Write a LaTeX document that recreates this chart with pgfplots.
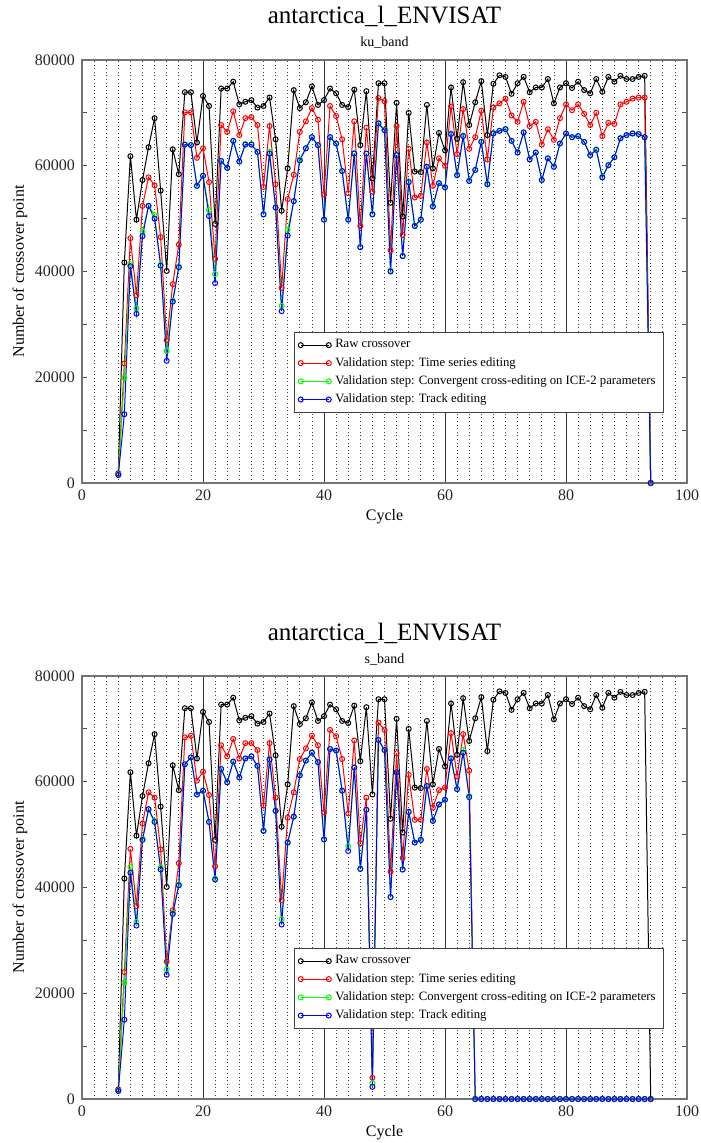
\documentclass[border=0pt]{standalone}
\usepackage{fontspec}
\setmainfont{Liberation Serif}
\usepackage{pgfplots}
\usepackage{pgfplotstable}
\pgfplotsset{compat=1.18}

% Ku band: raw crossover count and counts after each validation step
\pgfplotstableread{
c raw ts cc tr
6 1800 1700 1600 1500
7 41700 22600 19900 13000
8 61800 46300 41400 41000
9 49800 35500 33000 32000
10 57300 52400 47500 46700
11 63500 57800 52400 52400
12 69000 56300 50700 50000
13 55300 46500 41300 41100
14 40100 27000 25000 23100
15 63100 37600 34500 34300
16 58400 45100 40900 40800
17 73900 70100 64000 64000
18 73900 70100 63900 63900
19 64400 61500 56200 56200
20 73200 63300 58100 58100
21 71300 56900 51600 50500
22 49000 42400 39500 37800
23 74600 67700 60900 60900
24 74600 66400 59600 59600
25 75900 70300 64700 64700
26 71600 65800 60800 60800
27 72100 69000 64100 64000
28 72400 69200 64100 64000
29 71000 67700 62700 62600
30 71300 56000 50800 50800
31 72900 67500 62600 62300
32 65000 56500 52100 52100
33 51500 36900 33500 32500
34 59500 53700 47900 46800
35 74300 58300 53300 53300
36 70900 66400 61200 61000
37 72000 68400 63300 63300
38 75000 70900 65400 65400
39 71500 68700 63900 63900
40 72400 54600 49800 49800
41 74600 71300 65400 65400
42 73700 69400 64200 64200
43 71500 65000 59000 59000
44 71100 54800 49800 49800
45 74400 68400 62400 62300
46 63900 48600 44600 44600
47 74100 67200 62300 62300
48 57600 55100 50900 50800
49 75600 72800 68100 68000
50 75600 72200 66800 66700
51 53000 44000 40200 40000
52 71900 67500 62000 62000
53 50400 46900 43000 42900
54 70000 63200 57000 56900
55 58900 54000 48700 48600
56 58800 54300 49800 49800
57 71500 64400 59800 59800
58 59500 56200 52300 52300
59 66200 61400 56700 56700
60 62900 60000 56000 55900
61 74800 71200 66000 66000
62 65100 62200 58300 58200
63 75800 70700 65700 65600
64 67700 63200 57200 57100
65 72000 65400 59200 59200
66 76000 70400 64600 64500
67 65800 61200 56600 56500
68 75500 71000 66200 66100
69 77100 71800 66600 66600
70 76800 72700 67000 66900
71 73600 69500 64700 64700
72 75600 68300 62500 62500
73 76800 72100 66300 66300
74 73900 67500 61200 61200
75 74800 68300 62500 62500
76 74800 64000 57300 57300
77 76400 66900 61400 61400
78 71800 64900 59800 59800
79 74800 69000 64200 64200
80 75600 71600 66100 66100
81 74700 70500 65400 65400
82 75900 71600 65600 65600
83 74300 69800 64500 64500
84 73700 67700 62000 62000
85 76400 70000 63100 63000
86 74000 65600 57900 57800
87 76800 68100 60100 60100
88 75900 67900 61600 61600
89 77000 71600 65200 65200
90 76400 72100 65800 65800
91 76400 72700 66100 66100
92 76800 72900 66000 66000
93 77000 72900 65400 65400
94 0 0 0 0
}\kutable

% S band: same raw crossovers, validated counts stop after cycle 64
\pgfplotstableread{
c raw ts cc tr
6 1800 1700 1600 1500
7 41700 24000 22000 15000
8 61800 47300 43900 42800
9 49800 36500 33500 32800
10 57300 52100 49200 49000
11 63500 58000 54800 54800
12 69000 57000 52600 52400
13 55300 47200 43800 43400
14 40100 26000 24500 23500
15 63100 35700 35200 35000
16 58400 44600 40600 40400
17 73900 68400 63300 63300
18 73900 68700 64600 64600
19 64400 60200 57600 57600
20 73200 61900 58300 58300
21 71300 57500 52400 52400
22 49000 44000 41700 41500
23 74600 66900 62400 62400
24 74600 64800 59900 59900
25 75900 68100 63800 63800
26 71600 64400 60800 60800
27 72100 67300 64400 64400
28 72400 67300 64800 64800
29 71000 66000 63000 63000
30 71300 55500 50700 50700
31 72900 67300 64200 64200
32 65000 57000 54500 54500
33 51500 37600 34000 33000
34 59500 53200 48500 48500
35 74300 58000 53400 53400
36 70900 64300 61300 61200
37 72000 66300 64000 64000
38 75000 68700 65500 65500
39 71500 66900 63700 63700
40 72400 54200 49100 49100
41 74600 69800 66200 66200
42 73700 68600 65900 65900
43 71500 64300 58300 58300
44 71100 54000 47800 46900
45 74400 67800 62700 62700
46 63900 48400 43600 43500
47 74100 57000 54700 54700
48 57600 4000 3000 2300
49 75600 71200 67900 67900
50 75600 69800 66000 66000
51 53000 43000 38200 38200
52 71900 65400 61800 61800
53 50400 45600 43400 43400
54 70000 61300 54300 54300
55 58900 52800 48500 48500
56 58800 52800 49000 49000
57 71500 62400 59200 59200
58 59500 55100 52600 52600
59 66200 58400 55700 55700
60 62900 58900 56600 56600
61 74800 69200 64400 64400
62 65100 61000 58600 58600
63 75800 69000 66000 65500
64 67700 62100 57300 57100
65 72000 0 0 0
66 76000 0 0 0
67 65800 0 0 0
68 75500 0 0 0
69 77100 0 0 0
70 76800 0 0 0
71 73600 0 0 0
72 75600 0 0 0
73 76800 0 0 0
74 73900 0 0 0
75 74800 0 0 0
76 74800 0 0 0
77 76400 0 0 0
78 71800 0 0 0
79 74800 0 0 0
80 75600 0 0 0
81 74700 0 0 0
82 75900 0 0 0
83 74300 0 0 0
84 73700 0 0 0
85 76400 0 0 0
86 74000 0 0 0
87 76800 0 0 0
88 75900 0 0 0
89 77000 0 0 0
90 76400 0 0 0
91 76400 0 0 0
92 76800 0 0 0
93 77000 0 0 0
94 0 0 0 0
}\stable

\definecolor{rawc}{RGB}{0,0,0}
\definecolor{tsc}{RGB}{255,0,0}
\definecolor{ccc}{RGB}{0,255,0}
\definecolor{trc}{RGB}{0,0,255}

\pgfplotsset{
  crossover/.style={
    scale only axis, width=302.5pt, height=211.5pt,
    xmin=0, xmax=100, ymin=0, ymax=80000,
    xtick={0,20,...,100}, minor xtick={2,4,...,98},
    ytick={0,20000,...,80000}, minor ytick={10000,30000,50000,70000},
    xmajorgrids, xminorgrids,
    major grid style={black!80, line width=0.5pt},
    minor grid style={black!75, line width=0.4pt, dash pattern=on 0.4pt off 1.4pt},
    axis line style={black!55, line width=0.6pt},
    xtick style={draw=none},
    ytick style={black!70, line width=0.5pt},
    major tick length=2.5pt, minor tick length=2.5pt,
    tick align=inside,
    scaled y ticks=false,
    /pgf/number format/1000 sep={},
    /pgf/number format/assume math mode=true,
    ticklabel style={font=\fontsize{8}{9}\selectfont, text=black!85},
    label style={font=\fontsize{8}{9}\selectfont},
    xlabel={Cycle}, ylabel={Number of crossover point},
    xlabel style={yshift=2.5pt},
    ylabel style={yshift=-3pt},
    legend style={at={(0.350,0.357)}, anchor=north west,
      draw=black!75, line width=0.5pt,
      font=\fontsize{6.35}{7}\selectfont, row sep=-0.8pt,
      inner xsep=2pt, inner ysep=1.5pt},
    legend cell align=left,
    legend image code/.code={%
      \draw[mark repeat=1,#1] plot coordinates {(0pt,0pt) (14pt,0pt)};},
    every axis plot/.append style={line width=0.5pt, mark=o, mark size=1.25pt,
      mark options={solid, line width=0.5pt}},
  }
}

\begin{document}
\begin{tikzpicture}
\begin{axis}[crossover, name=top, at={(0,0)}, anchor=south west]
  \addplot[rawc] table[x=c, y=raw] {\kutable};
  \addplot[tsc]  table[x=c, y=ts]  {\kutable};
  \addplot[ccc]  table[x=c, y=cc]  {\kutable};
  \addplot[trc]  table[x=c, y=tr]  {\kutable};
  \legend{Raw crossover,
    Validation step: Time series editing,
    Validation step: Convergent cross-editing on ICE-2 parameters,
    Validation step: Track editing}
\end{axis}
\node[anchor=base, font=\fontsize{12.5}{14}\selectfont] at ([yshift=18pt]top.north) {antarctica\_l\_ENVISAT};
\node[anchor=base, font=\fontsize{7}{8}\selectfont] at ([yshift=6.5pt]top.north) {ku\_band};

\begin{axis}[crossover, name=bot, at={(0,-308pt)}, anchor=south west]
  \addplot[rawc] table[x=c, y=raw] {\stable};
  \addplot[tsc]  table[x=c, y=ts]  {\stable};
  \addplot[ccc]  table[x=c, y=cc]  {\stable};
  \addplot[trc]  table[x=c, y=tr]  {\stable};
  \legend{Raw crossover,
    Validation step: Time series editing,
    Validation step: Convergent cross-editing on ICE-2 parameters,
    Validation step: Track editing}
\end{axis}
\node[anchor=base, font=\fontsize{12.5}{14}\selectfont] at ([yshift=18pt]bot.north) {antarctica\_l\_ENVISAT};
\node[anchor=base, font=\fontsize{7}{8}\selectfont] at ([yshift=6.5pt]bot.north) {s\_band};

\pgfresetboundingbox
\path (-41pt,-330pt) rectangle (309pt,241.5pt);
\end{tikzpicture}
\end{document}
